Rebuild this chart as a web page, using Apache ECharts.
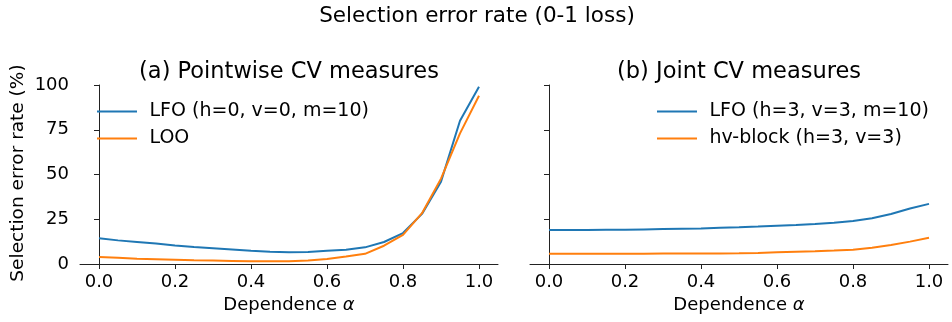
<!DOCTYPE html>
<html>
<head>
<meta charset="utf-8">
<script src="https://cdn.jsdelivr.net/npm/echarts@6/dist/echarts.min.js"></script>
<style>
  html, body { margin: 0; padding: 0; background: #fff; }
  #chart { width: 952px; height: 322px; }
</style>
</head>
<body>
<div id="chart"></div>
<script>
// Dependence parameter alpha (shared x values of all curves)
var alpha = [0, 0.05, 0.1, 0.15, 0.2, 0.25, 0.3, 0.35, 0.4, 0.45, 0.5,
             0.55, 0.6, 0.65, 0.7, 0.75, 0.8, 0.85, 0.9, 0.95, 1.0];

// (a) pointwise CV measures, selection error rate in %
var lfoPointwise = [14.4, 13.2, 12.3, 11.4, 10.3, 9.5, 8.8, 8.1, 7.4, 6.9, 6.5,
                    6.7, 7.4, 8.0, 9.3, 12.3, 17.3, 28.0, 46.0, 80.0, 99.0];
var looPointwise = [3.9, 3.5, 3.0, 2.7, 2.4, 2.1, 1.9, 1.7, 1.5, 1.5, 1.6,
                    2.0, 2.8, 4.2, 5.7, 10.2, 16.3, 28.4, 47.7, 73.0, 94.0];

// (b) joint CV measures, selection error rate in %
var lfoJoint = [19.0, 19.0, 19.0, 19.1, 19.1, 19.3, 19.5, 19.7, 19.9, 20.2, 20.5,
                20.9, 21.4, 21.8, 22.3, 23.0, 24.0, 25.6, 27.9, 31.0, 33.6];
var hvBlock  = [5.7, 5.7, 5.7, 5.7, 5.7, 5.7, 5.8, 5.8, 5.8, 5.9, 6.0,
                6.2, 6.5, 6.8, 7.1, 7.5, 8.0, 9.1, 10.6, 12.5, 14.7];

// Axis ticks
var xTicks = [0, 0.2, 0.4, 0.6, 0.8, 1.0];
var yTicks = [0, 25, 50, 75, 100];

// Text
var supTitle = 'Selection error rate (0-1 loss)';
var panelTitles = ['(a) Pointwise CV measures', '(b) Joint CV measures'];
var yLabel = 'Selection error rate (%)';
var names = ['LFO (h=0, v=0, m=10)', 'LOO', 'LFO (h=3, v=3, m=10)', 'hv-block (h=3, v=3)'];

var FONT = 'DejaVu Sans';
var FS = 18;
var BLUE = '#1f77b4', ORANGE = '#ff7f0e';
var AX = '#222';

function pairs(ys) { return alpha.map(function (a, i) { return [a, ys[i]]; }); }

function xAxisFor(idx) {
  return {
    gridIndex: idx, type: 'value', min: -0.05, max: 1.05,
    axisLine: { show: true, onZero: false, lineStyle: { color: AX, width: 1 } },
    axisTick: { show: true, customValues: xTicks, length: 5, lineStyle: { color: AX, width: 1 } },
    axisLabel: { customValues: xTicks, margin: 9, color: '#000', fontFamily: FONT, fontSize: FS,
                 formatter: function (v) { return v.toFixed(1); } },
    splitLine: { show: false },
    name: '{t|Dependence }{a|α}', nameLocation: 'middle', nameGap: 32,
    nameTextStyle: { rich: {
      t: { fontFamily: FONT, fontSize: FS, color: '#000' },
      a: { fontFamily: FONT, fontSize: FS, color: '#000', fontStyle: 'italic' } } }
  };
}

function yAxisFor(idx, labels) {
  return {
    gridIndex: idx, type: 'value', min: 0, max: 100, interval: 25,
    axisLine: { show: true, lineStyle: { color: AX, width: 1 } },
    axisTick: { show: true, customValues: yTicks, length: 5, lineStyle: { color: AX, width: 1 } },
    axisLabel: { show: labels, customValues: yTicks, margin: 11, color: '#000', fontFamily: FONT, fontSize: FS },
    splitLine: { show: false }
  };
}

function lineSeries(name, ys, color, idx) {
  return {
    name: name, type: 'line', xAxisIndex: idx, yAxisIndex: idx,
    data: pairs(ys), symbol: 'none', showSymbol: false, smooth: false,
    lineStyle: { color: color, width: 2 }, itemStyle: { color: color },
    emphasis: { disabled: true }
  };
}

function legendFor(left, data) {
  return {
    left: left, top: 97, orient: 'vertical', data: data,
    itemWidth: 40, itemHeight: 19, itemGap: 8,
    itemStyle: { opacity: 0 },
    lineStyle: { width: 2 },
    textStyle: { fontFamily: FONT, fontSize: 19, color: '#000', padding: [0, 0, 0, 7.5], lineHeight: 19 }
  };
}

var chart = echarts.init(document.getElementById('chart'), null, { renderer: 'canvas' });
chart.setOption({
  animation: false,
  backgroundColor: '#fff',
  grid: [
    { left: 80, top: 85, width: 418, height: 179 },
    { left: 530, top: 85, width: 418, height: 179 }
  ],
  xAxis: [xAxisFor(0), xAxisFor(1)],
  yAxis: [yAxisFor(0, true), yAxisFor(1, false)],
  legend: [
    legendFor(91, [names[0], names[1]]),
    legendFor(651, [names[2], names[3]])
  ],
  graphic: [
    { type: 'text', x: 477, y: 16, style: { text: supTitle, fontFamily: FONT, fontSize: 21.5,
      fill: '#000', textAlign: 'center', textVerticalAlign: 'middle' } },
    { type: 'text', x: 289, y: 72, style: { text: panelTitles[0], fontFamily: FONT, fontSize: 22.5,
      fill: '#000', textAlign: 'center', textVerticalAlign: 'middle' } },
    { type: 'text', x: 739, y: 72, style: { text: panelTitles[1], fontFamily: FONT, fontSize: 22.5,
      fill: '#000', textAlign: 'center', textVerticalAlign: 'middle' } },
    { type: 'text', x: 18, y: 173, rotation: Math.PI / 2, style: { text: yLabel, fontFamily: FONT,
      fontSize: 18.5, fill: '#000', textAlign: 'center', textVerticalAlign: 'middle' } }
  ],
  series: [
    lineSeries(names[0], lfoPointwise, BLUE, 0),
    lineSeries(names[1], looPointwise, ORANGE, 0),
    lineSeries(names[2], lfoJoint, BLUE, 1),
    lineSeries(names[3], hvBlock, ORANGE, 1)
  ]
});
</script>
</body>
</html>
